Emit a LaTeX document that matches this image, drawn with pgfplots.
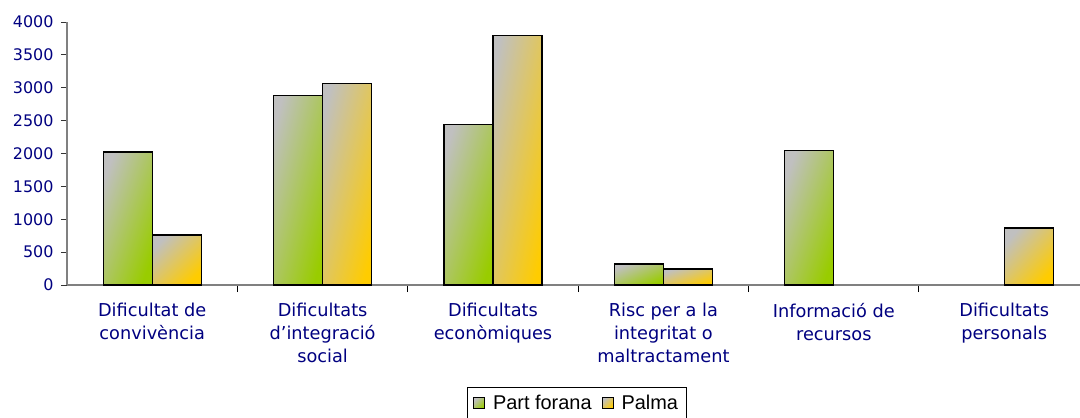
\documentclass[border=0pt]{standalone}
\usepackage{pgfplots}
\pgfplotsset{compat=1.18}
\usepackage{fontspec}
\setmainfont{DejaVu Sans}
\newfontfamily\legfont{Liberation Sans}
\definecolor{navyt}{HTML}{000080}
\definecolor{xlgray}{HTML}{C0C0C0}
\definecolor{xlgreen}{HTML}{99CC00}
\definecolor{xlgold}{HTML}{FFCC00}
\definecolor{axgray}{HTML}{808080}
% bar styles; the argument is the shading angle (diagonal of the bar)
\pgfplotsset{
  pf/.style={draw=black, line width=1.3bp, top color=xlgray, bottom color=xlgreen, shading angle=#1, bar shift=-24.5bp},
  pa/.style={draw=black, line width=1.3bp, top color=xlgray, bottom color=xlgold, shading angle=#1, bar shift=24.5bp},
}
\begin{document}
\begin{tikzpicture}
\begin{axis}[
  scale only axis, width=1013bp, height=263bp,
  xmin=-0.5, xmax=5.445, ymin=0, ymax=4000,
  ybar=0pt, bar width=49bp,
  axis x line*=bottom, axis y line*=left,
  axis line style={axgray, line width=1.2bp, -},
  ytick={0,500,...,4000},
  xtick={0,...,5},
  xticklabels={{Dificultat de\\convivència},{Dificultats\\d’integració\\social},{Dificultats\\econòmiques},{Risc per a la\\integritat o\\maltractament},{Informació de\\recursos},{Dificultats\\personals}},
  minor xtick={0.5,1.5,2.5,3.5,4.5},
  tick align=outside,
  major tick length=6bp, minor tick length=7bp,
  major x tick style={draw=none},
  minor x tick style={black, line width=1bp},
  ytick style={black!80, line width=1bp},
  /pgf/number format/assume math mode=true,
  /pgf/number format/1000 sep={},
  yticklabel style={text=navyt, font=\fontsize{16}{20}\selectfont, xshift=-4bp},
  xticklabel style={align=center, text=navyt, font=\fontsize{17.8}{23}\selectfont, yshift=-9bp},
  legend columns=2,
  legend style={at={(0.503,-0.388)}, anchor=north, draw=black, line width=0.8bp,
    font=\legfont\fontsize{20}{22}\selectfont, inner xsep=6bp, inner ysep=6bp,
    /tikz/every odd column/.append style={column sep=6bp},
    /tikz/every even column/.append style={column sep=8bp}},
  legend image code/.code={\draw[#1, shading angle=45, line width=1bp] (0bp,-5.5bp) rectangle (11bp,5.5bp);},
]
\addplot[pf=69.8] coordinates {(0,2025)};
\addplot[pa=45.6] coordinates {(0,760)};
\addplot[pf=75.5, forget plot] coordinates {(1,2886)};
\addplot[pa=76.3, forget plot] coordinates {(1,3064)};
\addplot[pf=73.0, forget plot] coordinates {(2,2441)};
\addplot[pa=78.9, forget plot] coordinates {(2,3798)};
\addplot[pf=23.2, forget plot] coordinates {(3,319)};
\addplot[pa=18.1, forget plot] coordinates {(3,243)};
\addplot[pf=70.0, forget plot] coordinates {(4,2050)};
\addplot[pa=49.3, forget plot] coordinates {(5,866)};
\legend{Part forana, Palma}
\end{axis}
\pgfresetboundingbox
\useasboundingbox ([xshift=-67bp,yshift=-133bp]current axis.south west) rectangle ++(1080bp,418bp);
\end{tikzpicture}
\end{document}
